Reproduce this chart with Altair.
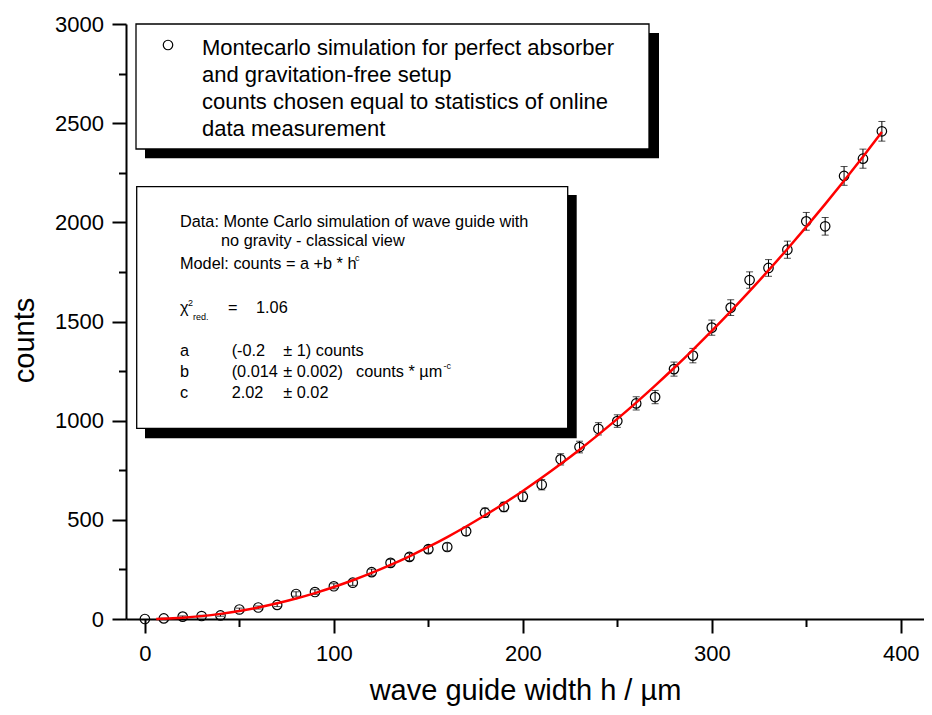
import altair as alt
import pandas as pd

# ---------------- data ----------------
width_h = [0, 10, 20, 30, 40, 50, 60, 70, 80, 90,
           100, 110, 120, 130, 140, 150, 160, 170, 180, 190,
           200, 210, 220, 230, 240, 250, 260, 270, 280, 290,
           300, 310, 320, 330, 340, 350, 360, 370, 380, 390]
counts = [0, 3, 12, 15, 18, 48, 58, 71, 126, 136,
          165, 183, 236, 283, 313, 352, 363, 442, 536, 565,
          617, 677, 805, 867, 959, 998, 1087, 1119, 1260, 1328,
          1469, 1570, 1709, 1770, 1862, 2005, 1980, 2234, 2321, 2459]
errors = [0, 1.7, 3.5, 3.9, 4.2, 6.9, 7.6, 8.4, 11.2, 11.7,
          12.8, 13.5, 15.4, 16.8, 17.7, 18.8, 19.1, 21.0, 23.2, 23.8,
          24.8, 26.0, 28.4, 29.4, 31.0, 31.6, 33.0, 33.5, 35.5, 36.4,
          38.3, 39.6, 41.3, 42.1, 43.2, 44.8, 44.5, 47.3, 48.2, 49.6]

fit_h = [6, 10, 20, 30, 40, 50, 60, 70, 80, 90,
         100, 110, 120, 130, 140, 150, 160, 170, 180, 190,
         200, 210, 220, 230, 240, 250, 260, 270, 280, 290,
         300, 310, 320, 330, 340, 350, 360, 370, 380, 390]
fit_counts = [0.6, 1.6, 6.5, 14.5, 25.8, 40.4, 58.1, 79.1, 103.3, 130.7,
              161.4, 195.3, 232.4, 272.8, 316.3, 363.2, 413.2, 466.4, 522.9, 582.7,
              645.6, 711.8, 781.2, 853.8, 929.7, 1008.8, 1091.1, 1176.6, 1265.4, 1357.4,
              1452.6, 1551.1, 1652.7, 1757.6, 1865.8, 1977.2, 2091.7, 2209.6, 2330.6, 2454.9]

x_major = [0, 100, 200, 300, 400]
x_minor = [50, 150, 250, 350]
y_major = [0, 500, 1000, 1500, 2000, 2500, 3000]
y_minor = [250, 750, 1250, 1750, 2250, 2750]

# ---------------- layout ----------------
X_MIN, X_MAX = -10, 412.3
Y_MIN, Y_MAX = 0, 3000
W, H = 798, 595
PAD = {"left": 118, "top": 16, "right": 0, "bottom": 88}
FONT = "Liberation Sans"


def dx(px):  # page pixel -> x data units (annotation layout only)
    return X_MIN + (px - 8 - PAD["left"]) * (X_MAX - X_MIN) / W


def dy(py):  # page pixel -> y data units (annotation layout only)
    return Y_MAX - (py - 8 - PAD["top"]) * (Y_MAX - Y_MIN) / H


xs = alt.Scale(domain=[X_MIN, X_MAX], nice=False, zero=False)
ys = alt.Scale(domain=[Y_MIN, Y_MAX], nice=False, zero=False)

pts = pd.DataFrame({"h": width_h, "c": counts})
err = pd.DataFrame({"h": width_h, "lo": [c - e for c, e in zip(counts, errors)],
                    "hi": [c + e for c, e in zip(counts, errors)], "e": errors})
err = err[err["e"] > 0]
fit = pd.DataFrame({"h": fit_h, "c": fit_counts})

box_px = [(136, 24, 649, 149), (136.7, 186.7, 567.7, 428.3)]
shadow_px = [(145, 33, 659, 158.3), (145, 195, 576.7, 438.3)]
boxes = pd.DataFrame([{"x": dx(a), "y": dy(b), "x2": dx(c), "y2": dy(d)} for a, b, c, d in box_px])
shadows = pd.DataFrame([{"x": dx(a), "y": dy(b), "x2": dx(c), "y2": dy(d)} for a, b, c, d in shadow_px])

texts = [
    ("Montecarlo simulation for perfect absorber", 202, 55, 22),
    ("and gravitation-free setup", 202, 82, 22),
    ("counts chosen equal to statistics of online", 202, 109, 22),
    ("data measurement", 202, 136, 22),
    ("Data: Monte Carlo simulation of wave guide with", 180, 227, 16.3),
    ("no gravity - classical view", 221, 246, 16.3),
    ("Model: counts = a +b * h", 180, 269, 16.3),
    ("c", 355, 261, 9),
    ("\u03c7", 180, 313, 16.3),
    ("2", 188, 306, 9),
    ("red.", 193, 320, 9),
    ("=", 228, 313, 16.3),
    ("1.06", 256, 313, 16.3),
    ("a", 180, 356, 16.3),
    ("(-0.2", 231.7, 356, 16.3),
    ("\u00b1 1) counts", 283.3, 356, 16.3),
    ("b", 180, 377, 16.3),
    ("(0.014", 231.7, 377, 16.3),
    ("\u00b1 0.002)", 283.3, 377, 16.3),
    ("counts * \u00b5m", 356, 377, 16.3),
    ("-c", 443.5, 369, 9),
    ("c", 180, 398, 16.3),
    ("2.02", 231.7, 398, 16.3),
    ("\u00b1 0.02", 283.3, 398, 16.3),
]
ann = pd.DataFrame([{"t": t, "x": dx(a), "y": dy(b), "fs": s} for t, a, b, s in texts])
legend_pt = pd.DataFrame({"x": [dx(168)], "y": [dy(45)]})


def X(f, axis=None):
    return alt.X(f, scale=xs, axis=axis)


def Y(f, axis=None):
    return alt.Y(f, scale=ys, axis=axis)


shadow_l = alt.Chart(shadows).mark_rect(color="black").encode(
    x=X("x:Q"), x2="x2:Q", y=Y("y:Q"), y2="y2:Q")
box_l = alt.Chart(boxes).mark_rect(fill="white", stroke="black", strokeWidth=1.3).encode(
    x=X("x:Q"), x2="x2:Q", y=Y("y:Q"), y2="y2:Q")

rule_l = alt.Chart(err).mark_rule(color="black", strokeWidth=1).encode(
    x=X("h:Q"), y=Y("lo:Q"), y2="hi:Q")
cap_lo = alt.Chart(err).mark_tick(orient="horizontal", size=7, thickness=1, color="black").encode(
    x=X("h:Q"), y=Y("lo:Q"))
cap_hi = alt.Chart(err).mark_tick(orient="horizontal", size=7, thickness=1, color="black").encode(
    x=X("h:Q"), y=Y("hi:Q"))

main_x_axis = alt.Axis(values=x_major, orient="bottom", title="wave guide width h / \u00b5m",
                       tickSize=14, tickWidth=2, domainWidth=2, labelFontSize=22,
                       labelBaseline="alphabetic", labelPadding=27.7, labelFlush=False,
                       labelOverlap=False, titleFontSize=29, titleFontWeight="normal",
                       titleX=399, titleY=80, titleBaseline="alphabetic", titleAlign="center",
                       grid=False, format="d")
main_y_axis = alt.Axis(values=y_major, orient="left", title="counts",
                       tickSize=14, tickWidth=2, domainWidth=2, labelFontSize=22,
                       labelPadding=8.5, labelFlush=False, labelOverlap=False,
                       titleFontSize=29, titleFontWeight="normal", titleAngle=270,
                       titleX=-93, titleY=316, titleBaseline="alphabetic", titleAlign="center",
                       grid=False, format="d")
minor_x_axis = alt.Axis(values=x_minor, orient="bottom", title=None, tickSize=7.5, tickWidth=2,
                        labels=False, domain=False, grid=False)
minor_y_axis = alt.Axis(values=y_minor, orient="left", title=None, tickSize=7.5, tickWidth=2,
                        labels=False, domain=False, grid=False)

pts_l = alt.Chart(pts).mark_point(shape="circle", filled=False, size=90, strokeWidth=1.2,
                                  color="black", opacity=1).encode(
    x=X("h:Q", main_x_axis), y=Y("c:Q", main_y_axis))

fit_l = alt.Chart(fit).mark_line(color="#ff0000", strokeWidth=2.5, interpolate="monotone").encode(
    x=X("h:Q", minor_x_axis), y=Y("c:Q", minor_y_axis))

text_l = alt.Chart(ann).mark_text(align="left", baseline="alphabetic", color="black",
                                  font=FONT).encode(
    x=X("x:Q"), y=Y("y:Q"), text="t:N", size=alt.Size("fs:Q", scale=None, legend=None))

leg_l = alt.Chart(legend_pt).mark_point(shape="circle", filled=False, size=90, strokeWidth=1.2,
                                        color="black", opacity=1).encode(
    x=X("x:Q"), y=Y("y:Q"))

chart = alt.layer(shadow_l, box_l, rule_l, cap_lo, cap_hi, pts_l, fit_l, text_l, leg_l).resolve_scale(
    x="shared", y="shared").resolve_axis(x="independent", y="independent").properties(
    width=W, height=H, padding=PAD, autosize=alt.AutoSizeParams(type="none"),
    background="white").configure_view(stroke=None).configure_axis(
    labelFont=FONT, titleFont=FONT, labelColor="black", titleColor="black",
    tickColor="black", domainColor="black").configure_text(font=FONT)

chart.save("out.html", embed_options={"renderer": "svg", "actions": False})
